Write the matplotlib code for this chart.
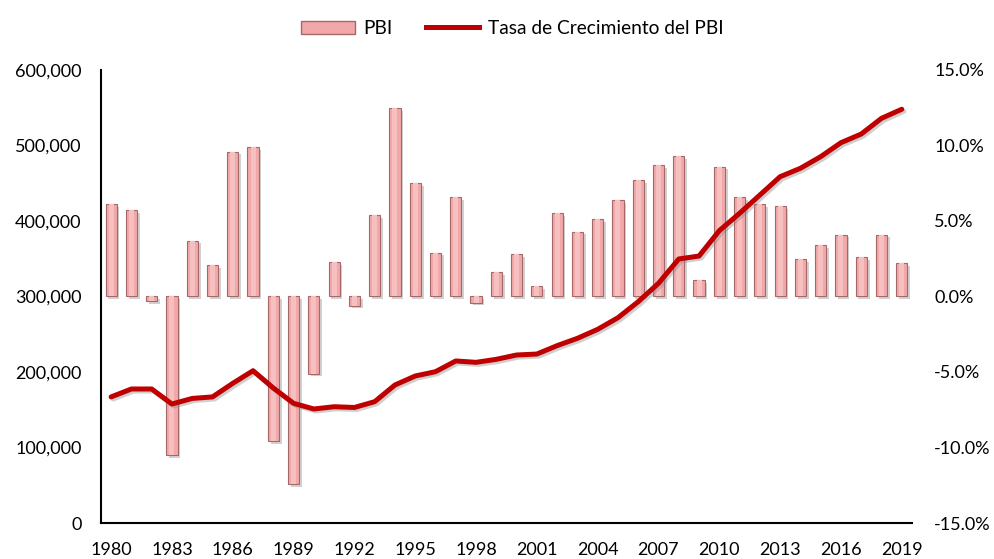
import matplotlib
matplotlib.use("Agg")
import matplotlib.pyplot as plt
import matplotlib.patheffects as pe
from matplotlib.lines import Line2D
from matplotlib.patches import Patch
from matplotlib.ticker import FuncFormatter

plt.rcParams['font.family'] = ['Lato', 'DejaVu Sans']

years = list(range(1980, 2020))

# growth rate (%) drawn as bars on the right axis
growth = [6.1, 5.7, -0.3, -10.5, 3.7, 2.1, 9.6, 9.9, -9.6, -12.4,
          -5.1, 2.3, -0.6, 5.4, 12.5, 7.5, 2.9, 6.6, -0.4, 1.6,
          2.8, 0.7, 5.5, 4.3, 5.1, 6.4, 7.7, 8.7, 9.3, 1.1,
          8.6, 6.6, 6.1, 6.0, 2.5, 3.4, 4.1, 2.6, 4.1, 2.2]

# GDP level drawn as a line on the left axis
gdp = [167000, 177500, 177500, 157600, 165000, 167000, 185000, 201700, 178800, 158500,
       151000, 154000, 153000, 160700, 182800, 194700, 200400, 214600, 212800, 216800,
       222500, 223800, 234900, 244600, 256500, 271900, 293100, 317500, 349700, 353600,
       387200, 410200, 434400, 458700, 469800, 485200, 503700, 515200, 536000, 548000]

fig = plt.figure(figsize=(9.95, 5.59), dpi=100)
ax = fig.add_axes([0.1015, 0.0644, 0.815, 0.8104])
ax2 = ax.twinx()

x = list(range(len(years)))

bar_color = "#f2a8a8"
ax2.bar(x, growth, width=0.55, color=bar_color, edgecolor="#a46868", linewidth=0.8,
        path_effects=[pe.SimplePatchShadow(offset=(2, -2), shadow_rgbFace="#999999", alpha=0.45),
                      pe.Normal()])
# lighter centre strip for a bevelled look
ax2.bar(x, growth, width=0.25, color="#f7c0c0", linewidth=0)
ax2.set_ylim(-15, 15)
ax2.set_yticks([-15, -10, -5, 0, 5, 10, 15])
ax2.yaxis.set_major_formatter(FuncFormatter(lambda v, p: f"{v:.1f}%"))

ax.plot(x, gdp, color="#c00000", linewidth=3.6, solid_capstyle="round",
        path_effects=[pe.SimpleLineShadow(offset=(1.5, -1.5), shadow_color="#888888", alpha=0.4),
                      pe.Normal()])
ax.set_ylim(0, 600000)
ax.set_yticks(range(0, 600001, 100000))
ax.yaxis.set_major_formatter(FuncFormatter(lambda v, p: f"{int(v):,}"))

ax.set_xlim(-0.5, len(years) - 0.5)
ax.set_xticks(x[::3])
ax.set_xticklabels([str(y) for y in years[::3]])

# line above the bars
ax.set_zorder(ax2.get_zorder() + 1)
ax.patch.set_visible(False)

for a in (ax, ax2):
    for s in ("top", "right"):
        a.spines[s].set_visible(False)
    a.tick_params(length=0, labelsize=13, colors="black")
ax2.spines["left"].set_visible(False)
ax2.spines["bottom"].set_visible(False)
ax.spines["left"].set_linewidth(1.5)
ax.spines["bottom"].set_linewidth(1.5)
ax.tick_params(axis="y", pad=14)
ax.tick_params(axis="x", pad=14)
ax2.tick_params(axis="y", pad=16)

handles = [Patch(facecolor=bar_color, edgecolor="#a46868"),
           Line2D([0], [0], color="#c00000", linewidth=3.6)]
fig.legend(handles, ["PBI", "Tasa de Crecimiento del PBI"], loc="upper center",
           bbox_to_anchor=(0.515, 0.995), ncol=2, frameon=False, fontsize=13.8,
           handlelength=2.8, handletextpad=0.45, columnspacing=1.7)

fig.savefig("out.png", dpi=100)
